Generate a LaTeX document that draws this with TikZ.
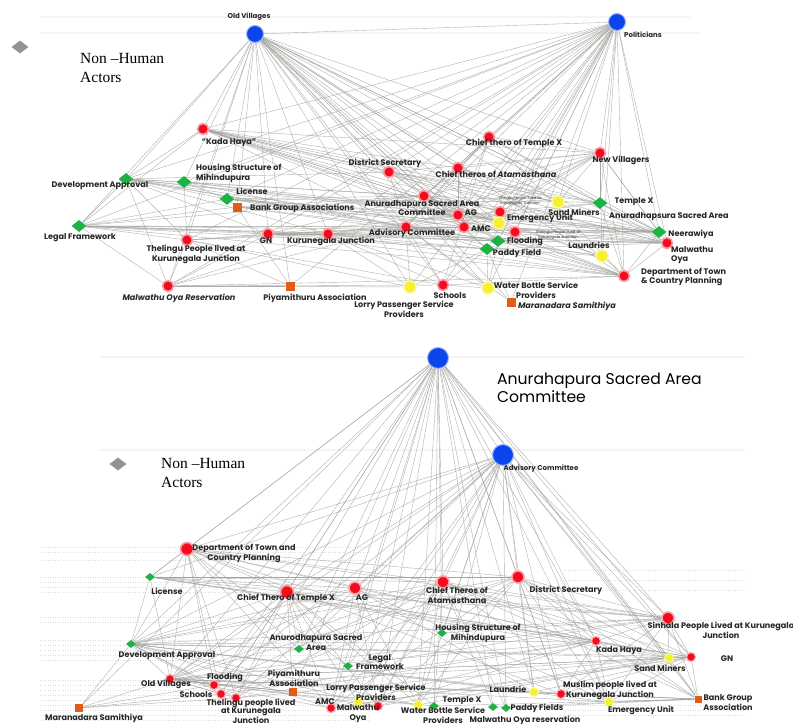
\documentclass[tikz,border=0pt]{standalone}
\usepackage{fontspec}
\setmainfont{Liberation Serif}
\newfontfamily\labfont{Poppins}
\usetikzlibrary{shapes.geometric}
\pgfdeclarelayer{bg}
\pgfsetlayers{bg,main}
\definecolor{nred}{RGB}{242,12,30}
\definecolor{nblue}{RGB}{10,70,235}
\definecolor{ngreen}{RGB}{30,178,70}
\definecolor{norange}{RGB}{226,92,20}
\definecolor{nyellow}{RGB}{246,240,50}
\definecolor{edgegray}{RGB}{160,160,156}
\tikzset{
  rnode/.style={circle,fill=nred,draw=nred!40,line width=1.6pt,minimum size=11pt,inner sep=0pt},
  srnode/.style={circle,fill=nred,draw=nred!35,line width=1.2pt,minimum size=9pt,inner sep=0pt},
  bnode/.style={circle,fill=nblue,draw=nblue!40,line width=1pt,minimum size=17pt,inner sep=0pt},
  gnode/.style={diamond,fill=ngreen,minimum width=15pt,minimum height=12pt,inner sep=0pt},
  sgnode/.style={diamond,fill=ngreen,minimum width=10pt,minimum height=8pt,inner sep=0pt},
  onode/.style={rectangle,fill=norange,minimum size=9pt,inner sep=0pt},
  yynode/.style={circle,fill=nyellow,draw=nyellow!50,line width=1.5pt,minimum size=12pt,inner sep=0pt},
  legdia/.style={diamond,fill=gray!85,minimum width=17pt,minimum height=13pt,inner sep=0pt},
  lab/.style={font=\labfont\bfseries\fontsize{8.1}{9.8}\selectfont,text=black!85,inner sep=0pt,align=center},
  labs/.style={font=\labfont\bfseries\fontsize{7}{8}\selectfont,text=black!85,inner sep=0pt,align=center},
  labt/.style={font=\labfont\fontsize{3.8}{4.8}\selectfont,text=black!80,inner sep=0pt,align=center},
  labbig/.style={font=\labfont\fontsize{15.6}{18}\selectfont,text=black,inner sep=0pt,align=left},
  legtxt/.style={font=\fontsize{15.5}{19}\selectfont,inner sep=0pt,align=left},
  edge/.style={draw=edgegray,line width=0.42pt,opacity=0.8},
  band/.style={draw=gray!8,line width=1.2pt},
  dband/.style={draw=gray!25,line width=0.5pt,dotted}
}
\begin{document}
\begin{tikzpicture}[x=1pt,y=-1pt]
\useasboundingbox (0,0) rectangle (793,725);

% ---------- background bands ----------
\begin{pgfonlayer}{bg}
\draw[band] (40,17) -- (690,17);
\draw[band] (40,33) -- (700,33);
\draw[band] (100,357) -- (745,357);
\draw[band] (100,450) -- (745,450);
\foreach \yy in {547,552,560,577,582,587,592,617,622,640,645,650,655,660,680,685,690,695,700,705,710,715,720}{
  \draw[dband] (40,\yy) -- (370,\yy);}
\foreach \yy in {570,580,590,620,625,700,705,710,715}{
  \draw[dband] (560,\yy) -- (745,\yy);}
\end{pgfonlayer}

% ---------- legends ----------
\node[legdia] (leg1) at (20,47) {};
\node[legtxt,anchor=west] (leg1t) at (80,68) {Non –Human\\Actors};
\node[legdia] (leg2) at (118,464) {};
\node[legtxt,anchor=west] (leg2t) at (161,473) {Non –Human\\Actors};

% ================= TOP NETWORK =================
\node[bnode] (tOV) at (255,34) {};
\node[bnode] (tPol) at (617,22) {};
\node[rnode] (tKH) at (203,129) {};
\node[gnode] (tDA) at (126,179) {};
\node[gnode] (tHS) at (184,182) {};
\node[gnode] (tLic) at (227,199) {};
\node[onode] (tBG) at (237,207) {};
\node[gnode] (tLF) at (79,226) {};
\node[rnode] (tTh) at (187,240) {};
\node[rnode] (tGN) at (268,234) {};
\node[rnode] (tKJ) at (328,234) {};
\node[rnode] (tMOR) at (168,286) {};
\node[onode] (tPiy) at (290,286) {};
\node[rnode] (tDS) at (389,172) {};
\node[rnode] (tCT) at (489,137) {};
\node[rnode] (tCTA) at (458,168) {};
\node[rnode] (tNV) at (600,153) {};
\node[rnode] (tASA) at (424,196) {};
\node[rnode] (tAG) at (458,215) {};
\node[rnode] (tAMC) at (464,227) {};
\node[rnode] (tAC) at (406,227) {};
\node[rnode] (tSin) at (500,212) {};
\node[yynode] (tSM) at (558,202) {};
\node[yynode] (tEU) at (499,223) {};
\node[rnode] (tTh2) at (515,232) {};
\node[gnode] (tFl) at (498,241) {};
\node[gnode] (tPF) at (487,249) {};
\node[gnode] (tTX) at (600,203) {};
\node[gnode] (tNee) at (659,232) {};
\node[rnode] (tMO) at (667,243) {};
\node[yynode] (tLau) at (602,256) {};
\node[rnode] (tDTC) at (624,276) {};
\node[yynode] (tLPS) at (410,287) {};
\node[rnode] (tSch) at (443,285) {};
\node[yynode] (tWB) at (488,288) {};
\node[onode] (tMS) at (511,302) {};

% top labels
\node[labs] (tOVl) at (249,17) {Old Villages};
\node[labs] (tPoll) at (643,35) {Politicians};
\node[lab] (tKHl) at (229,143) {“Kada Haya”};
\node[lab] (tDAl) at (100,186) {Development Approval};
\node[lab,anchor=west,align=left] (tHSl) at (196,173) {Housing Structure of\\Mihindupura};
\node[lab] (tLicl) at (252,191) {License};
\node[lab,anchor=west] (tBGl) at (250,208) {Bank Group Associations};
\node[lab] (tLFl) at (80,238) {Legal Framework};
\node[lab] (tThl) at (196,254) {Thelingu People lived at\\Kurunegala Junction};
\node[lab] (tGNl) at (266,241) {GN};
\node[lab] (tKJl) at (331,241) {Kurunegala Junction};
\node[lab] (tMORl) at (179,298) {\itshape Malwathu Oya Reservation};
\node[lab] (tPiyl) at (315,298) {Piyamithuru Association};
\node[lab] (tDSl) at (385,163) {District Secretary};
\node[lab] (tCTl) at (514,143) {Chief thero of Temple X};
\node[lab] (tCTAl) at (496,174) {Chief theros of \itshape Atamasthana};
\node[lab] (tNVl) at (621,160) {New Villagers};
\node[lab] (tASAl) at (422,208) {Anuradhapura Sacred Area\\Committee};
\node[lab] (tAGl) at (471,213) {AG};
\node[lab] (tAMCl) at (481,229) {AMC};
\node[lab] (tACl) at (412,233) {Advisory Committee};
\node[labt] (tSinl) at (520,201) {Sinhala People lived at\\Kurunegala Junction};
\node[lab] (tSMl) at (574,212) {Sand Miners};
\node[lab] (tEUl) at (540,218.5) {Emergency Unit};
\node[labt] (tTh2l) at (558,235) {Thelingu People lived at\\Kurunegala Junction};
\node[lab] (tFll) at (525,241) {Flooding};
\node[lab] (tPFl) at (517,253) {Paddy Field};
\node[lab] (tTXl) at (634,202) {Temple X};
\node[lab] (tNeel) at (691,234) {Neerawiya};
\node[lab,anchor=west,align=left] (tMOl) at (671,255) {Malwathu\\Oya};
\node[lab] (tLaul) at (589,245) {Laundries};
\node[lab] (tLPSl) at (404,309) {Lorry Passenger Service\\Providers};
\node[lab] (tSchl) at (450,296) {Schools};
\node[lab] (tWBl) at (536,290) {Water Bottle Service\\Providers};
\node[lab] (tMSl) at (567,306) {\itshape Maranadara Samithiya};
\begin{scope}
\clip (0,0) rectangle (734,330);
\node[lab,anchor=west] (tASA2l) at (609,217) {Anuradhapsura Sacred Area};
\node[lab,anchor=west,align=left] (tDTCl) at (641,277) {Department of Town\\\& Country Planning};
\end{scope}

% top edges
\begin{pgfonlayer}{bg}
\draw[edge] (tOV) -- (tPol);
\foreach \s/\ts in {
 tOV/{tKH,tDA,tHS,tLic,tBG,tLF,tTh,tGN,tKJ,tMOR,tPiy,tDS,tCTA,tASA,tAG,tAMC,tAC,tSin,tSM,tEU,tFl,tPF,tTX,tNee,tLau,tDTC,tLPS,tSch,tWB,tMS,tCT,tNV,tMO},
 tPol/{tKH,tDA,tHS,tLic,tLF,tTh,tGN,tKJ,tDS,tCT,tCTA,tNV,tASA,tAG,tAMC,tAC,tSin,tSM,tEU,tTh2,tFl,tPF,tTX,tNee,tMO,tLau,tDTC,tLPS,tSch,tWB,tMS,tPiy,tMOR},
 tKH/{tDS,tCTA,tASA,tAC,tAG,tAMC,tNV,tTX,tNee,tMO,tSM,tSin,tEU,tDTC,tLau,tDA,tLF},
 tDA/{tLF,tHS,tLic,tASA,tAC,tKJ,tGN,tDS,tMOR,tTh,tAG,tAMC,tFl,tNee},
 tLF/{tMOR,tTh,tGN,tKJ,tAC,tASA,tAMC,tFl,tPF,tNee,tMO,tBG,tLic,tDTC},
 tHS/{tLic,tASA,tAC,tAG,tNee,tTh},
 tLic/{tBG,tASA,tAC,tAG,tAMC,tNee,tMO,tSM},
 tBG/{tASA,tAC,tAG,tNee,tLau,tPiy},
 tTh/{tMOR,tGN,tKJ,tAC,tPiy,tLPS,tSch},
 tGN/{tKJ,tAC,tASA,tAG,tAMC,tMOR,tFl,tDTC,tNee,tLau},
 tKJ/{tAC,tAG,tAMC,tFl,tPF,tMO,tDTC,tSch,tLPS,tWB},
 tMOR/{tKJ,tAC,tSch,tPiy,tLPS,tDTC},
 tDS/{tASA,tAC,tAG,tNV,tTX,tSM,tSin,tEU,tMO},
 tCT/{tCTA,tASA,tAC,tAG,tNV,tTX,tNee,tDTC,tSch},
 tCTA/{tASA,tAC,tAG,tAMC,tNV,tTX,tNee,tMO},
 tNV/{tASA,tAC,tAG,tAMC,tTX,tNee,tMO,tDTC,tSM,tSin,tLau,tEU},
 tASA/{tAC,tAG,tAMC,tTX,tNee,tMO,tDTC,tLau,tPF,tFl,tEU},
 tAC/{tAG,tAMC,tNee,tMO,tDTC,tTX,tLau,tSch,tLPS,tWB,tMS,tFl,tPF},
 tAG/{tAMC,tNee,tMO,tDTC,tTX},
 tAMC/{tNee,tMO,tDTC},
 tFl/{tMO,tDTC,tNee,tWB},
 tPF/{tMO,tDTC,tLPS,tWB,tMS,tSch},
 tDTC/{tLau,tNee,tMO,tTX},
 tSch/{tWB,tDTC},
 tTX/{tNee,tMO}}{
  \foreach \t in \ts {\draw[edge] (\s) -- (\t);}
}
\end{pgfonlayer}

% ================= BOTTOM NETWORK =================
\node[bnode,minimum size=21pt] (bASA) at (438,358) {};
\node[bnode,minimum size=21pt] (bAC) at (503,455) {};
\node[rnode,minimum size=13pt] (bDTC) at (187,549) {};
\node[sgnode] (bLic) at (150,577) {};
\node[rnode,minimum size=13pt] (bCT) at (287,592) {};
\node[rnode,minimum size=12pt] (bAG) at (355,588) {};
\node[rnode,minimum size=12pt] (bCTA) at (443,582) {};
\node[rnode,minimum size=12pt] (bDS) at (518,577) {};
\node[rnode,minimum size=12pt] (bSin) at (668,618) {};
\node[sgnode] (bDA) at (131,644) {};
\node[sgnode] (bASAr) at (299,649) {};
\node[sgnode] (bHS) at (442,633) {};
\node[sgnode] (bLF) at (348,666) {};
\node[srnode] (bKH) at (596,641) {};
\node[yynode,minimum size=9pt,line width=1pt] (bSM) at (669,658) {};
\node[srnode] (bGN) at (691,657) {};
\node[srnode] (bOV) at (170,679) {};
\node[srnode] (bFl) at (214,685) {};
\node[srnode] (bSch) at (221,694) {};
\node[srnode] (bTh) at (236,698) {};
\node[onode,minimum size=8pt] (bMS) at (79,708) {};
\node[onode,minimum size=8pt] (bPiy) at (293,692) {};
\node[srnode] (bAMC) at (331,708) {};
\node[yynode,minimum size=9pt,line width=1pt] (bLPS) at (358,702) {};
\node[srnode] (bMO) at (378,706) {};
\node[yynode,minimum size=9pt,line width=1pt] (bWB) at (418,705) {};
\node[sgnode] (bTX) at (434,706) {};
\node[sgnode] (bPF) at (506,708) {};
\node[sgnode] (bMOR) at (493,707) {};
\node[yynode,minimum size=9pt,line width=1pt] (bLau) at (534,692) {};
\node[srnode] (bMus) at (561,694) {};
\node[yynode,minimum size=9pt,line width=1pt] (bEU) at (609,702) {};
\node[onode,minimum size=7pt] (bBG) at (698,699) {};

% bottom labels
\node[labbig,anchor=west] (bASAl) at (497,388) {Anurahapura Sacred Area\\Committee};
\node[labs] (bACl) at (541,469) {Advisory Committee};
\node[lab] (bDTCl) at (244,553.5) {Department of Town and\\Country Planning};
\node[lab] (bLicl) at (167,591) {License};
\node[lab] (bCTl) at (286,598) {Chief Thero of Temple X};
\node[lab] (bAGl) at (362,598) {AG};
\node[lab] (bCTAl) at (457,595.5) {Chief Theros of\\Atamasthana};
\node[lab] (bDSl) at (566,590) {District Secretary};
\node[lab] (bSinl) at (721,630) {Sinhala People Lived at Kurunegala\\Junction};
\node[lab] (bDAl) at (167,656) {Development Approval};
\node[lab] (bASArl) at (316,639) {Anurodhapura Sacred};
\node[lab,anchor=west] (bASArl2) at (306,648) {Area};
\node[lab] (bLFl) at (380,662) {Legal\\Framework};
\node[lab] (bHSl) at (478,633.5) {Housing Structure of\\Mihindupura};
\node[lab] (bKHl) at (619,651) {Kada Haya};
\node[lab] (bSMl) at (660,668) {Sand Miners};
\node[lab] (bGNl) at (727,659) {GN};
\node[lab] (bOVl) at (166,684) {Old Villages};
\node[lab] (bFll) at (225,677) {Flooding};
\node[lab] (bSchl) at (196,695) {Schools};
\node[lab,font=\labfont\bfseries\fontsize{8.1}{8.6}\selectfont] (bThl) at (251,711) {Thelingu people lived\\at Kurunegala\\Junction};
\node[lab] (bMSl) at (94,718) {Maranadara Samithiya};
\node[lab] (bPiyl) at (294,678) {Piyamithuru\\Association};
\node[lab] (bAMCl) at (325,702) {AMC};
\node[lab] (bLPSl) at (376,692.5) {Lorry Passenger Service\\Providers};
\node[lab] (bMOl) at (358,713.5) {Malwathu\\Oya};
\node[lab] (bWBl) at (443,715) {Water Bottle Service\\Providers};
\node[lab] (bTXl) at (462,701) {Temple X};
\node[lab] (bPFl) at (537,708) {Paddy Fields};
\node[lab] (bMORl) at (525,720) {Malwathu Oya reservation};
\node[lab] (bLaul) at (508,689) {Laundrie};
\node[lab] (bMusl) at (610,690.5) {Muslim people lived at\\Kurunegala Junction};
\node[lab] (bEUl) at (641,710) {Emergency Unit};
\node[lab] (bBGl) at (728,702.5) {Bank Group\\Association};

% bottom edges
\begin{pgfonlayer}{bg}
\draw[edge] (bASA) -- (bAC);
\foreach \s/\ts in {
 bASA/{bDTC,bLic,bCT,bAG,bCTA,bDS,bSin,bDA,bASAr,bHS,bLF,bKH,bSM,bGN,bOV,bFl,bSch,bTh,bMS,bPiy,bAMC,bLPS,bMO,bWB,bTX,bPF,bMOR,bLau,bMus,bEU,bBG},
 bAC/{bDTC,bLic,bCT,bAG,bCTA,bDS,bSin,bDA,bASAr,bHS,bLF,bKH,bSM,bGN,bOV,bFl,bTh,bAMC,bLPS,bMO,bWB,bTX,bPF,bLau,bMus,bEU,bBG},
 bDTC/{bLic,bDA,bOV,bCT,bAG,bCTA,bDS,bSin,bFl,bSch,bTh,bASAr,bLF,bHS,bKH,bMus,bAMC},
 bLic/{bDA,bOV,bCT,bAG,bCTA,bDS,bSin,bKH,bGN,bSM},
 bCT/{bOV,bFl,bSch,bTh,bAMC,bMO,bLPS,bWB,bTX,bSin,bKH,bGN,bDA,bASAr,bPiy},
 bAG/{bOV,bAMC,bMO,bWB,bLau,bSin,bKH,bDA,bEU},
 bCTA/{bOV,bFl,bTh,bAMC,bMO,bLPS,bWB,bTX,bPF,bMOR,bSin,bKH,bGN,bSM,bEU,bBG,bDA},
 bDS/{bOV,bSch,bAMC,bMO,bWB,bLau,bMus,bKH,bSin,bGN,bSM,bBG,bEU,bDA,bLic},
 bSin/{bKH,bSM,bGN,bBG,bMus,bEU,bOV,bDA,bLF,bHS},
 bDA/{bOV,bFl,bSch,bTh,bMS,bAMC,bMO,bWB,bKH,bSM,bGN,bLau,bMus,bEU},
 bKH/{bOV,bSch,bTh,bAMC,bMO,bMus,bEU,bBG,bSM,bGN},
 bGN/{bBG,bOV,bFl,bAMC,bMO,bLau,bMus,bEU,bSM},
 bSM/{bOV,bTh,bAMC,bWB,bBG},
 bOV/{bMS,bFl,bSch,bTh,bAMC,bMO,bLPS,bWB,bTX,bLau,bMus,bEU,bBG,bPiy},
 bBG/{bMus,bEU,bLau,bPF,bMOR,bTX},
 bMS/{bFl,bSch,bTh}}{
  \foreach \t in \ts {\draw[edge] (\s) -- (\t);}
}
\end{pgfonlayer}
\end{tikzpicture}
\end{document}
